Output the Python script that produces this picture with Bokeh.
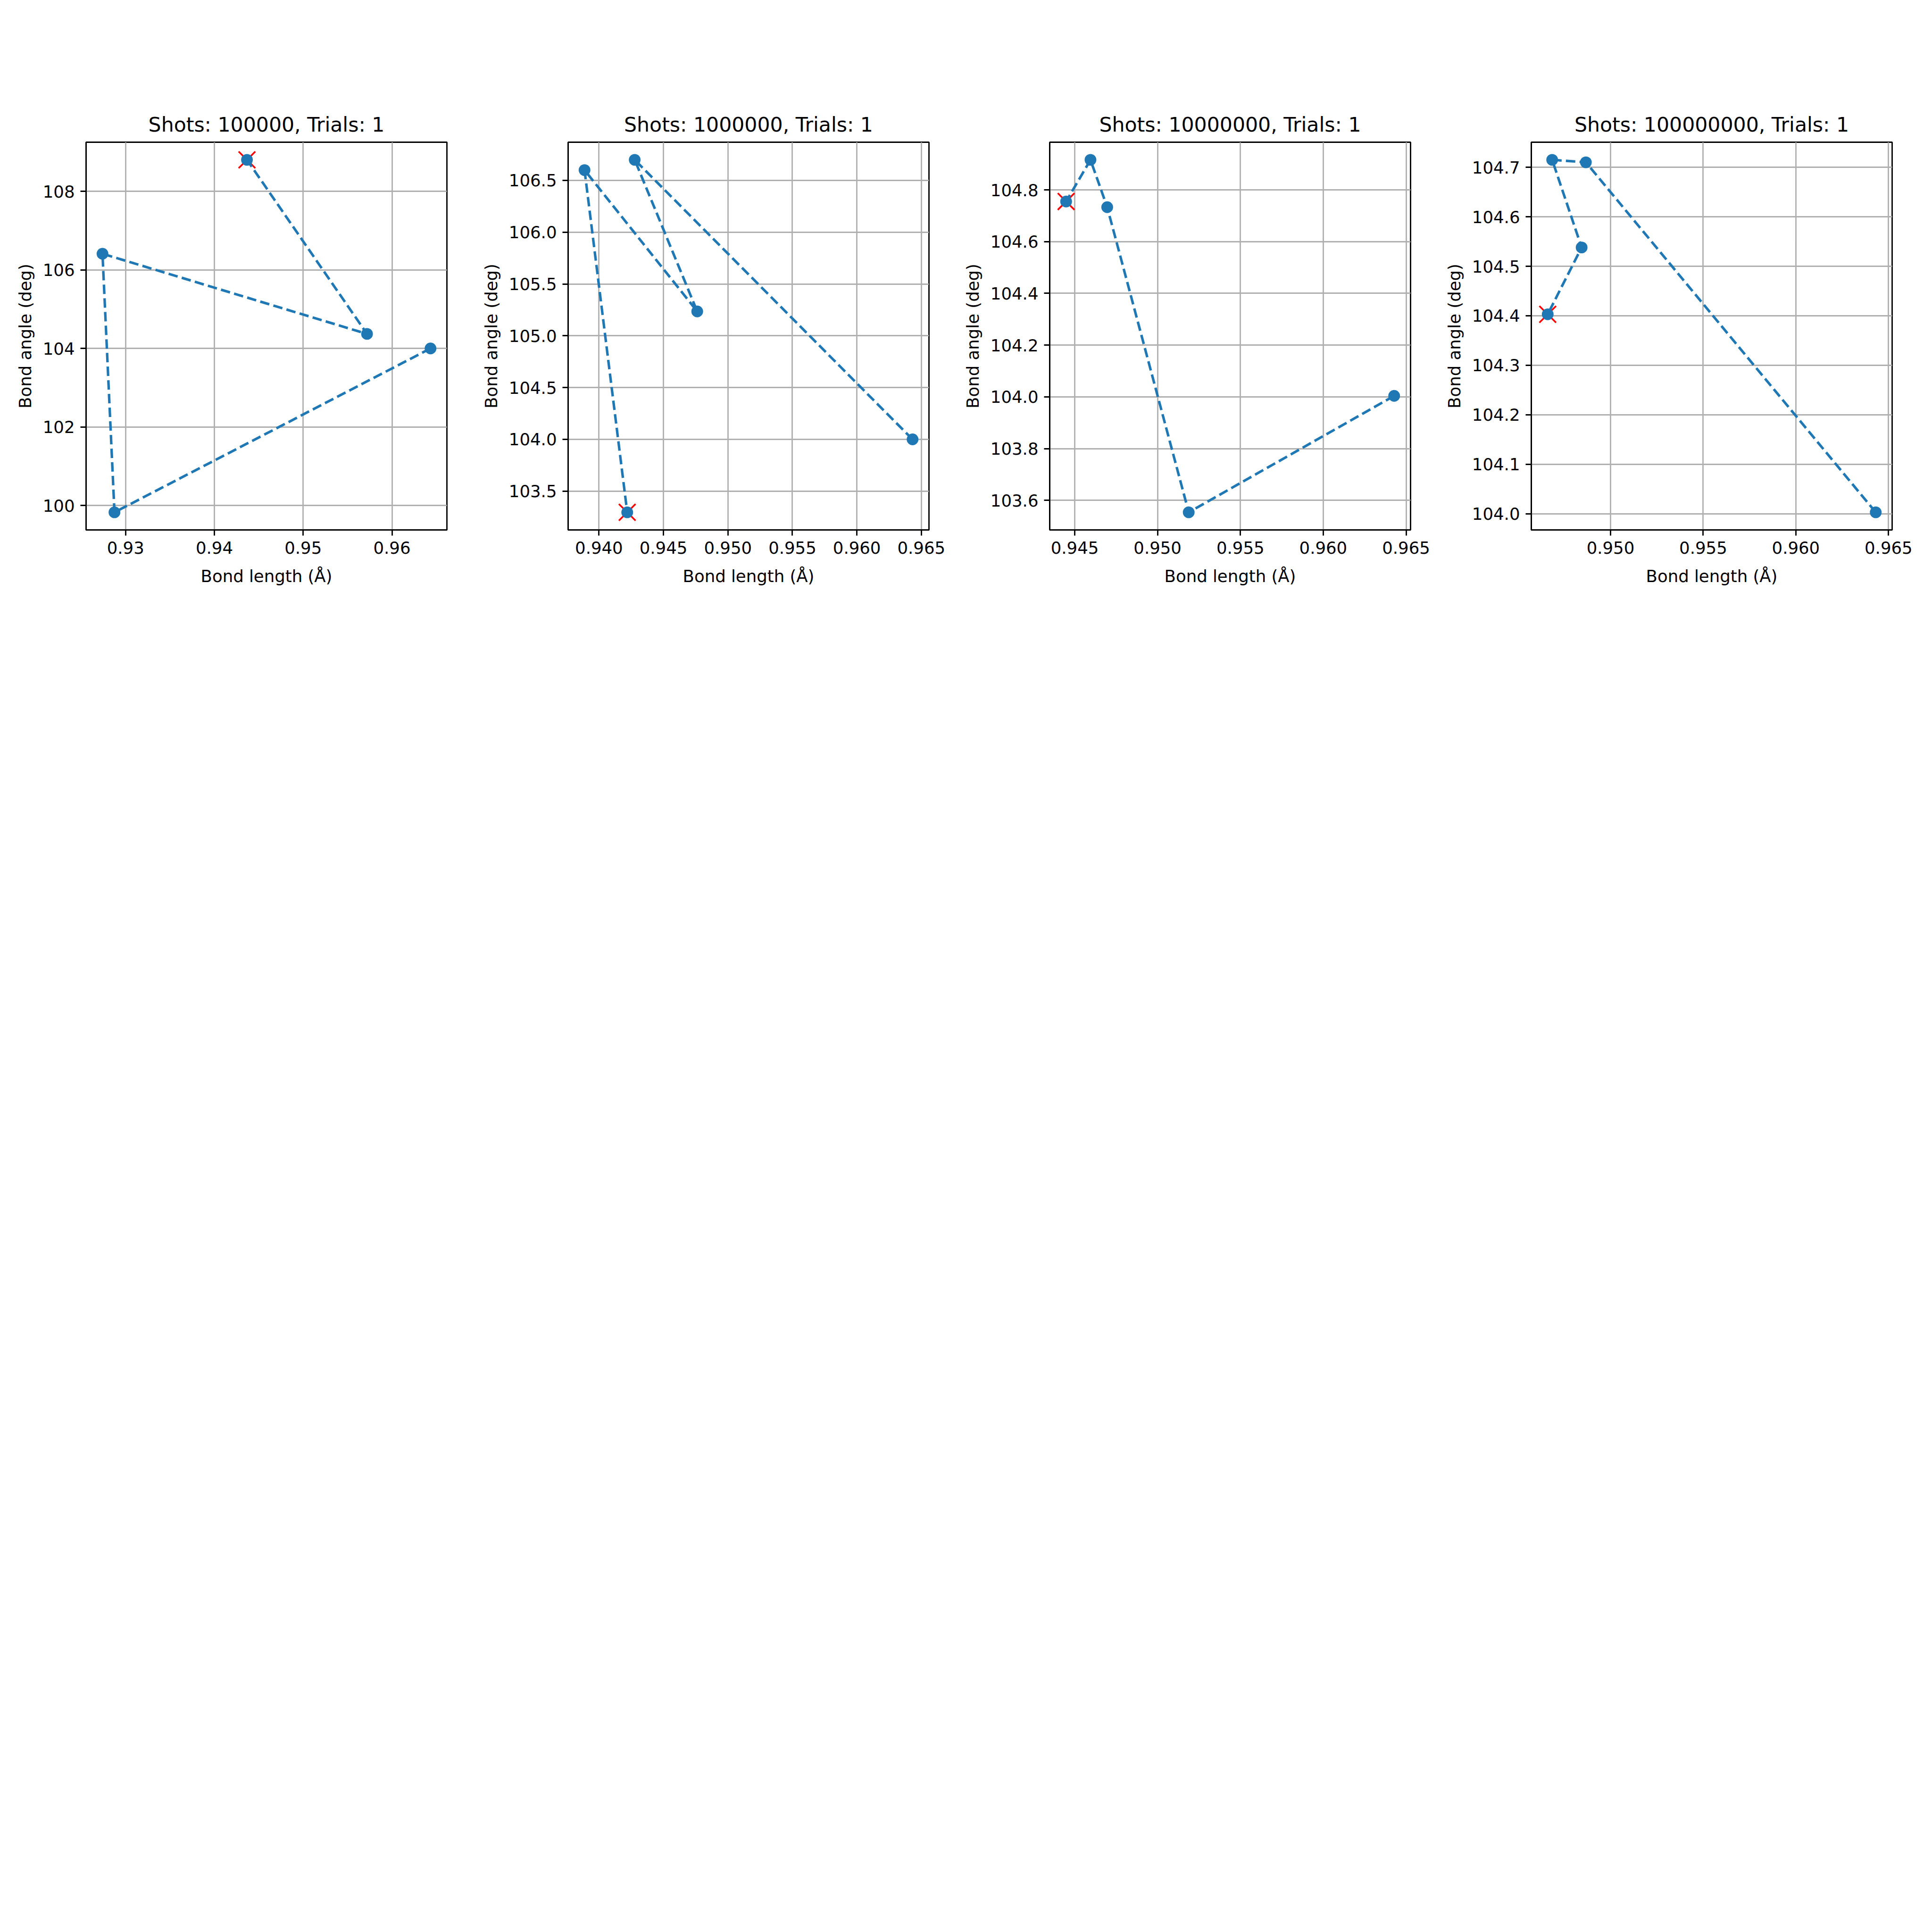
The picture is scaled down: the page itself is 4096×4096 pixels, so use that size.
from bokeh.plotting import figure
from bokeh.layouts import row
from bokeh.models import Range1d, FixedTicker, NumeralTickFormatter
from bokeh.embed import file_html
from bokeh.resources import INLINE

# ---- data ----
shots = [100000, 1000000, 10000000, 100000000]
trials = [1, 1, 1, 1]

bond_len_1 = [0.96434, 0.92875, 0.92740, 0.95719, 0.94367]
bond_ang_1 = [104.00, 99.83, 106.41, 104.37, 108.80]
bond_len_2 = [0.96432, 0.94277, 0.94762, 0.93888, 0.94219]
bond_ang_2 = [104.00, 106.698, 105.235, 106.599, 103.296]
bond_len_3 = [0.96428, 0.95188, 0.94696, 0.94595, 0.94448]
bond_ang_3 = [104.004, 103.554, 104.733, 104.916, 104.755]
bond_len_4 = [0.96431, 0.94867, 0.94685, 0.94844, 0.94661]
bond_ang_4 = [104.003, 104.710, 104.715, 104.538, 104.403]

x_ticks_1 = [0.93, 0.94, 0.95, 0.96]
x_ticks_2 = [0.940, 0.945, 0.950, 0.955, 0.960, 0.965]
x_ticks_3 = [0.945, 0.950, 0.955, 0.960, 0.965]
x_ticks_4 = [0.950, 0.955, 0.960, 0.965]
y_ticks_1 = [100, 102, 104, 106, 108]
y_ticks_2 = [103.5, 104.0, 104.5, 105.0, 105.5, 106.0, 106.5]
y_ticks_3 = [103.6, 103.8, 104.0, 104.2, 104.4, 104.6, 104.8]
y_ticks_4 = [104.0, 104.1, 104.2, 104.3, 104.4, 104.5, 104.6, 104.7]
x_formats = ["0.00", "0.000", "0.000", "0.000"]
y_formats = ["0", "0.0", "0.0", "0.0"]

x_label = "Bond length (Å)"
y_label = "Bond angle (deg)"

# ---- styling (scaled 0.853 from 300-dpi reference) ----
S = 0.853
FONT = "DejaVu Sans"
BLUE = "#1f77b4"
lefts = [182, 190, 190, 190]
rights = [67, 66, 66, 85]
FRAME_W = 765
FRAME_H = 822
TOP = 301
BOTTOM = 200
LW = 0.8 * 300 / 72 * S  # 0.8pt

panels = [
    (bond_len_1, bond_ang_1, x_ticks_1, y_ticks_1),
    (bond_len_2, bond_ang_2, x_ticks_2, y_ticks_2),
    (bond_len_3, bond_ang_3, x_ticks_3, y_ticks_3),
    (bond_len_4, bond_ang_4, x_ticks_4, y_ticks_4),
]

figs = []
for i, (xs, ys, xt, yt) in enumerate(panels):
    xmin, xmax = min(xs), max(xs)
    ymin, ymax = min(ys), max(ys)
    dx = (xmax - xmin) * 0.05
    dy = (ymax - ymin) * 0.05
    p = figure(
        output_backend="svg", toolbar_location=None,
        frame_width=FRAME_W, frame_height=FRAME_H,
        min_border_left=lefts[i], min_border_right=rights[i],
        min_border_top=TOP, min_border_bottom=BOTTOM,
        x_range=Range1d(xmin - dx, xmax + dx), y_range=Range1d(ymin - dy, ymax + dy),
        title=f"Shots: {shots[i]}, Trials: {trials[i]}",
    )
    p.title.text_font = FONT
    p.title.text_font_size = f"{12*300/72*S:.1f}px"
    p.title.text_font_style = "normal"
    p.title.align = "center"
    p.title.standoff = 25
    p.title.text_color = "black"

    p.outline_line_color = "black"
    p.outline_line_width = LW
    p.outline_line_alpha = 1.0
    p.background_fill_color = "white"
    p.border_fill_color = "white"

    p.xaxis.ticker = FixedTicker(ticks=xt)
    p.yaxis.ticker = FixedTicker(ticks=yt)
    p.xaxis.formatter = NumeralTickFormatter(format=x_formats[i])
    p.yaxis.formatter = NumeralTickFormatter(format=y_formats[i])
    p.xaxis.axis_label = x_label
    p.yaxis.axis_label = y_label
    for ax in (p.xaxis, p.yaxis):
        ax.axis_line_color = "black"
        ax.axis_line_width = LW
        ax.major_tick_line_color = "black"
        ax.major_tick_line_width = LW
        ax.major_tick_out = 12
        ax.major_tick_in = 0
        ax.minor_tick_out = 0
        ax.minor_tick_in = 0
        ax.major_label_standoff = 12
        ax.major_label_text_font = FONT
        ax.major_label_text_font_size = f"{10*300/72*S:.1f}px"
        ax.major_label_text_color = "black"
        ax.axis_label_text_font = FONT
        ax.axis_label_text_font_size = f"{10*300/72*S:.1f}px"
        ax.axis_label_text_font_style = "normal"
        ax.axis_label_text_color = "black"
    p.xaxis.axis_label_standoff = 24
    p.yaxis.axis_label_standoff = 14
    p.grid.grid_line_color = "#b0b0b0"
    p.grid.grid_line_width = LW

    # best point marker (last point)
    p.scatter([xs[-1]], [ys[-1]], marker="x", size=50,
              line_color="red", line_width=1.0*300/72*S)
    p.line(xs, ys, line_color=BLUE, line_width=1.5*300/72*S, line_dash="20 9")
    p.scatter(xs, ys, marker="circle", size=7*300/72*S,
              fill_color=BLUE, line_color=None)
    figs.append(p)

layout = row(*figs, spacing=0)
open("out.html", "w").write(file_html(layout, INLINE))
